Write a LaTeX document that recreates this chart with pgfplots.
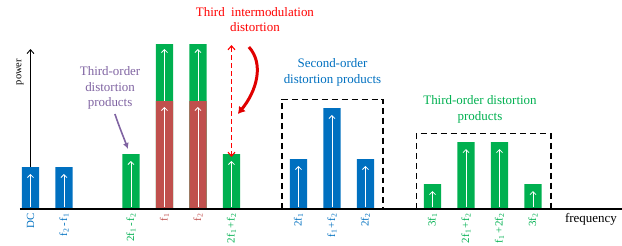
\documentclass[border=0pt]{standalone}
\usepackage{fontspec}
\setmainfont{Liberation Serif}
\usepackage{pgfplots}
\pgfplotsset{compat=1.18}
\usetikzlibrary{arrows.meta}
\definecolor{cb}{HTML}{0070C0}
\definecolor{cg}{HTML}{00B050}
\definecolor{cr}{HTML}{C0504D}
\definecolor{cpur}{HTML}{8064A2}
\definecolor{cred}{HTML}{FF0000}
\newcommand{\sub}[1]{\textsubscript{#1}}
\newcommand{\pl}{\hspace{0.1em}+\hspace{0.1em}}
\newcommand{\mi}{\hspace{0.15em}-\hspace{0.15em}}
\begin{document}
\begin{tikzpicture}
\begin{axis}[
  x=33.5bp, y=1bp,
  xmin=-0.313, xmax=17.657, ymin=0, ymax=209,
  clip=false,
  axis line style={draw=none},
  tick style={draw=none},
  ytick=\empty,
  xtick={0,1,3,4,5,6,8,9,10,12,13,14,15},
  xticklabels={
    {\textcolor{cb}{DC}},
    {\textcolor{cb}{f\sub{2}\mi f\sub{1}}},
    {\textcolor{cg}{2f\sub{1}\mi f\sub{2}}},
    {\textcolor{cr}{f\sub{1}}},
    {\textcolor{cr}{f\sub{2}}},
    {\textcolor{cg}{2f\sub{1}\pl f\sub{2}}},
    {\textcolor{cb}{2f\sub{1}}},
    {\textcolor{cb}{f\sub{1}\pl f\sub{2}}},
    {\textcolor{cb}{2f\sub{2}}},
    {\textcolor{cg}{3f\sub{1}}},
    {\textcolor{cg}{2f\sub{1}\pl f\sub{2}}},
    {\textcolor{cg}{f\sub{1}\pl 2f\sub{2}}},
    {\textcolor{cg}{3f\sub{2}}}
  },
  xticklabel style={rotate=90, anchor=east, font=\fontsize{11}{12}\selectfont, inner sep=0pt, xshift=-4bp},
]
% y axis arrow
\draw[line width=0.9pt, -{Straight Barb[length=4pt,width=7pt]}] (axis cs:0,0) -- (axis cs:0,160);
% dashed boxes
\draw[dash pattern=on 6pt off 4pt, line width=1.1pt] (axis cs:7.507,0) rectangle (axis cs:10.522,109.7);
\draw[dash pattern=on 6pt off 4pt, line width=1.1pt] (axis cs:11.516,0) rectangle (axis cs:15.537,75.3);
% bars
\addplot[ybar, bar width=0.52, bar shift=0pt, fill=cb, draw=none] coordinates {(0,42) (1,42) (8,50) (9,101) (10,50)};
\addplot[ybar, bar width=0.52, bar shift=0pt, fill=cg, draw=none] coordinates {(3,55) (4,165) (5,165) (6,55) (12,25) (13,67) (14,67) (15,25)};
\addplot[ybar, bar width=0.52, bar shift=0pt, fill=cr, draw=none] coordinates {(4,108) (5,108)};
% white arrows
\addplot[white, line width=0.8pt, -{Straight Barb[length=3pt,width=6pt]}, quiver={u=0, v=\thisrow{v}}] table {
x y v
0 2 33
1 2 33
3 2 46
4 2 100
4 108 52
5 2 100
5 108 52
6 2 46
8 2 41
9 2 92
10 2 41
12 2 16
13 2 58
14 2 58
15 2 16
};
% x axis line
\draw[line width=1.1pt] (axis cs:-0.313,0) -- (axis cs:17.657,0);
% red dashed double arrow
\draw[cred, line width=1.1pt, dash pattern=on 5pt off 3pt, {Straight Barb[length=4pt,width=7pt]}-{Straight Barb[length=4pt,width=7pt]}] (axis cs:6,52) -- (axis cs:6,164);
% curved red arrow
\draw[cred!88!black, line width=3pt, -{Latex[length=7pt,width=9pt]}] (axis cs:6.52,162) .. controls (axis cs:6.98,145) and (axis cs:6.75,118) .. (axis cs:6.19,95);
% purple arrow
\draw[cpur, line width=1.6pt, -{Latex[length=6pt,width=6pt]}] (axis cs:2.52,95) .. controls (axis cs:2.65,82) and (axis cs:2.8,70) .. (axis cs:2.91,60);
% texts
\node[cred, align=center, font=\fontsize{13}{15}\selectfont] at (axis cs:6.70,189) {Third\ \ intermodulation\\distortion};
\node[cpur, align=center, font=\fontsize{13}{15.5}\selectfont] at (axis cs:2.376,121) {Third-order\\distortion\\products};
\node[cb, align=center, font=\fontsize{13}{16}\selectfont] at (axis cs:9.015,137) {Second-order\\distortion products};
\node[cg, align=center, font=\fontsize{13}{16}\selectfont] at (axis cs:13.418,100) {Third-order distortion\\products};
\node[font=\fontsize{13}{15}\selectfont] at (axis cs:16.731,-10) {frequency};
\node[rotate=90, font=\fontsize{10.5}{12}\selectfont] at (axis cs:-0.313,137) {power};
\coordinate (bbA) at (axis cs:-0.910,209);
\coordinate (bbB) at (axis cs:17.657,-36);
\end{axis}
\pgfresetboundingbox
\path[use as bounding box] (bbA) rectangle (bbB);
\end{tikzpicture}
\end{document}
